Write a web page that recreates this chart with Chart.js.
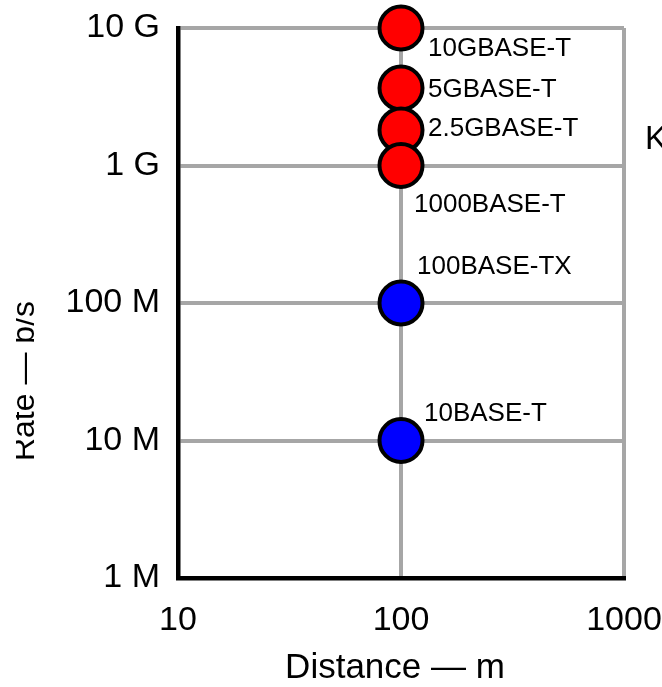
<!DOCTYPE html>
<html>
<head>
<meta charset="utf-8">
<script src="https://cdn.jsdelivr.net/npm/chart.js@4.4.1/dist/chart.umd.min.js"></script>
<style>
  html, body { margin: 0; padding: 0; background: #fff; }
  #wrap { width: 662px; height: 687px; }
</style>
</head>
<body>
<div id="wrap"><canvas id="chart" width="662" height="687"></canvas></div>
<script>
const xTicks = [10, 100, 1000];
const yTicks = [1e6, 1e7, 1e8, 1e9, 1e10];
const yTickLabels = ['1 M', '10 M', '100 M', '1 G', '10 G'];
const names = ['10GBASE-T', '5GBASE-T', '2.5GBASE-T', '1000BASE-T', '100BASE-TX', '10BASE-T'];
const distances = [100, 100, 100, 100, 100, 100];
const rates = [1e10, 3.66e9, 1.81e9, 1e9, 1e8, 1e7];
const pointColors = ['#ff0000', '#ff0000', '#ff0000', '#ff0000', '#0000ff', '#0000ff'];

// label offsets from point centre (px)
const labelOffsets = [[27, 21], [27, 2], [27, -1], [13, 39], [16, -36], [23, -27]];

const FONT = "'Liberation Sans', Arial, sans-serif";

const textPlugin = {
    id: 'textPlugin',
    afterDatasetsDraw(chart) {
        const ctx = chart.ctx;
        const meta = chart.getDatasetMeta(0);
        ctx.save();
        ctx.fillStyle = '#000';
        ctx.font = `26px ${FONT}`;
        ctx.textAlign = 'left';
        ctx.textBaseline = 'middle';
        meta.data.forEach((pt, i) => {
            ctx.fillText(names[i], pt.x + labelOffsets[i][0], pt.y + labelOffsets[i][1]);
        });

        // axis titles
        ctx.font = `35px ${FONT}`;
        ctx.textAlign = 'center';
        ctx.textBaseline = 'middle';
        ctx.fillText('Distance — m', (chart.chartArea.left + chart.chartArea.right) / 2 - 6, 668);

        // y title sits partly outside the frame, its left side is cut off
        ctx.save();
        ctx.beginPath();
        ctx.rect(16, 0, 100, chart.height);
        ctx.clip();
        ctx.font = `32px ${FONT}`;
        ctx.translate(34, 381);
        ctx.rotate(-Math.PI / 2);
        ctx.textBaseline = 'alphabetic';
        ctx.fillText('Rate — b/s', 0, 0);
        ctx.restore();

        ctx.font = `33px ${FONT}`;
        ctx.textAlign = 'left';
        ctx.fillText('Key', 645, 140);
        ctx.restore();
    }
};

new Chart(document.getElementById('chart').getContext('2d'), {
    type: 'scatter',
    data: {
        datasets: [{
            data: distances.map((d, i) => ({ x: d, y: rates[i] })),
            backgroundColor: pointColors,
            borderColor: '#000',
            borderWidth: 4,
            pointRadius: 21.5,
            pointHoverRadius: 21.5,
            clip: false
        }]
    },
    options: {
        responsive: false,
        animation: false,
        layout: { padding: { top: 28, right: 38, left: 0, bottom: 0 } },
        plugins: { legend: { display: false }, tooltip: { enabled: false } },
        scales: {
            x: {
                type: 'logarithmic',
                min: 10,
                max: 1000,
                afterBuildTicks: s => { s.ticks = xTicks.map(v => ({ value: v })); },
                afterFit: s => { s.height = 109; s.paddingLeft = 0; s.paddingRight = 0; },
                grid: { color: '#a6a6a6', lineWidth: 4, drawTicks: false },
                border: { color: '#000', width: 4.5 },
                ticks: {
                    padding: 22,
                    color: '#000',
                    font: { family: FONT, size: 34 },
                    maxRotation: 0,
                    callback: v => String(v)
                }
            },
            y: {
                type: 'logarithmic',
                min: 1e6,
                max: 1e10,
                afterBuildTicks: s => { s.ticks = yTicks.map(v => ({ value: v })); },
                afterFit: s => { s.width = 178; s.paddingTop = 0; s.paddingBottom = 0; },
                grid: { color: '#a6a6a6', lineWidth: 4, drawTicks: false },
                border: { color: '#000', width: 4.5 },
                ticks: {
                    padding: 18,
                    color: '#000',
                    font: { family: FONT, size: 34 },
                    callback: v => yTickLabels[yTicks.indexOf(v)]
                }
            }
        }
    },
    plugins: [textPlugin]
});
</script>
</body>
</html>
